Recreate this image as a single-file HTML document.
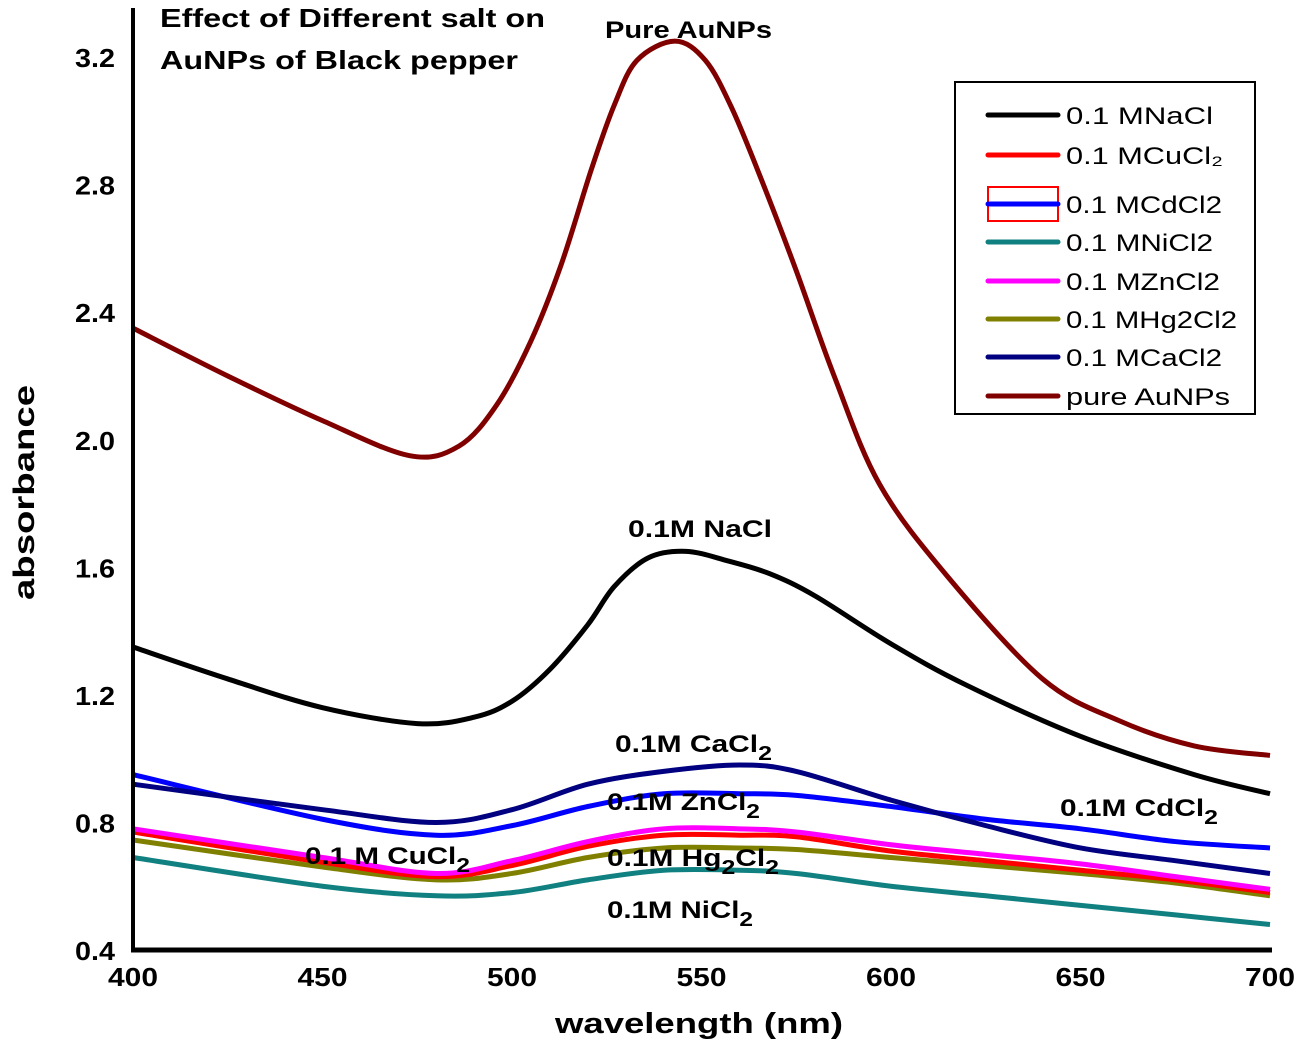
<!DOCTYPE html>
<html><head><meta charset="utf-8"><style>
body{margin:0;background:#fff}
svg{display:block;font-family:"Liberation Sans",Arial,sans-serif}
.t{font-weight:bold;font-size:26px;fill:#000}
.lab{font-weight:bold;font-size:24px;fill:#000}
.lg{font-size:24px;fill:#000}
</style></head><body>
<svg id="chart" width="1300" height="1046" viewBox="0 0 1300 1046">
<g id="plot"></g>
<g>
<line x1="133" y1="8" x2="133" y2="952" stroke="#000" stroke-width="4"/>
<line x1="131" y1="950" x2="1272" y2="950" stroke="#000" stroke-width="5"/>
</g>
<g id="ticks"></g>
<text class="t" x="555" y="1033" textLength="288" lengthAdjust="spacingAndGlyphs" style="font-size:29px">wavelength (nm)</text>
<text class="t" transform="translate(34,600) rotate(-90)" textLength="215" lengthAdjust="spacingAndGlyphs" style="font-size:30px">absorbance</text>
<text class="t" x="160" y="27" textLength="385" lengthAdjust="spacingAndGlyphs">Effect of Different salt on</text>
<text class="t" x="160" y="69" textLength="358" lengthAdjust="spacingAndGlyphs">AuNPs of Black pepper</text>
<g>
<text class="lab" x="605" y="38" textLength="167" lengthAdjust="spacingAndGlyphs">Pure AuNPs</text>
<text class="lab" x="628" y="537" textLength="144" lengthAdjust="spacingAndGlyphs">0.1M NaCl</text>
<text class="lab" x="615" y="752" textLength="157" lengthAdjust="spacingAndGlyphs">0.1M CaCl<tspan dy="8" font-size="20">2</tspan></text>
<text class="lab" x="607" y="810" textLength="153" lengthAdjust="spacingAndGlyphs">0.1M ZnCl<tspan dy="8" font-size="20">2</tspan></text>
<text class="lab" x="1060" y="816" textLength="158" lengthAdjust="spacingAndGlyphs">0.1M CdCl<tspan dy="8" font-size="20">2</tspan></text>
<text class="lab" x="305" y="864" textLength="165" lengthAdjust="spacingAndGlyphs">0.1 M CuCl<tspan dy="8" font-size="20">2</tspan></text>
<text class="lab" x="607" y="866" textLength="172" lengthAdjust="spacingAndGlyphs">0.1M Hg<tspan dy="8" font-size="20">2</tspan><tspan dy="-8">Cl</tspan><tspan dy="8" font-size="20">2</tspan></text>
<text class="lab" x="607" y="918" textLength="146" lengthAdjust="spacingAndGlyphs">0.1M NiCl<tspan dy="8" font-size="20">2</tspan></text>
</g>
<g>
<rect x="955" y="82" width="300" height="332" fill="#fff" stroke="#000" stroke-width="2"/>
<rect x="988" y="187" width="70" height="34" fill="none" stroke="#f00" stroke-width="2"/>
<g id="legend-items"></g>
</g>
</svg>
<script>
const wl=[400,425,450,473,486,496,505,513,521,527,533,543,551,558,566,575,585,597,615,640,660,680,700];
const pureAu=[2.35,2.20,2.06,1.95,1.98,2.11,2.31,2.55,2.85,3.05,3.19,3.25,3.19,3.04,2.81,2.53,2.20,1.86,1.57,1.25,1.12,1.04,1.01];
const wl2=[400,425,450,475,490,500,510,520,527,536,546,557,568,580,600,620,650,680,700];
const nacl=[1.35,1.25,1.16,1.11,1.13,1.18,1.28,1.42,1.54,1.63,1.65,1.62,1.58,1.51,1.36,1.23,1.07,0.95,0.89];
const wl3=[400,450,480,500,520,540,560,575,600,625,650,675,700];
const cacl2=[0.92,0.84,0.80,0.84,0.92,0.96,0.98,0.96,0.87,0.79,0.72,0.68,0.64];
const cdcl2=[0.95,0.81,0.76,0.79,0.85,0.89,0.89,0.885,0.85,0.81,0.78,0.74,0.72];
const zncl2=[0.78,0.69,0.64,0.68,0.74,0.78,0.78,0.77,0.73,0.70,0.67,0.63,0.59];
const cucl2=[0.77,0.675,0.63,0.665,0.725,0.76,0.76,0.755,0.71,0.68,0.65,0.62,0.58];
const hg2cl2=[0.745,0.66,0.62,0.64,0.69,0.72,0.72,0.715,0.69,0.665,0.64,0.61,0.57];
const nicl2=[0.69,0.60,0.57,0.58,0.62,0.65,0.65,0.64,0.60,0.57,0.54,0.51,0.48];
const xTicks=[400,450,500,550,600,650,700];
const yTicks=[0.4,0.8,1.2,1.6,2.0,2.4,2.8,3.2];
const legendLabels=["0.1 MNaCl","0.1 MCuCl₂","0.1 MCdCl2","0.1 MNiCl2","0.1 MZnCl2","0.1 MHg2Cl2","0.1 MCaCl2","pure AuNPs"];
const legendWidths=[147,157,156,147,154,171,156,164];

const X=v=>133+(v-400)*1137/300;
const Y=v=>950-(v-0.4)*318.9;
const NS='http://www.w3.org/2000/svg';
function path(xs,ys){
  const p=xs.map((x,i)=>[X(x),Y(ys[i])]);
  let d='M'+p[0][0]+','+p[0][1];
  for(let i=0;i<p.length-1;i++){
    const p0=p[i-1]||p[i],p1=p[i],p2=p[i+1],p3=p[i+2]||p2;
    const c1=[p1[0]+(p2[0]-p0[0])/6,p1[1]+(p2[1]-p0[1])/6];
    const c2=[p2[0]-(p3[0]-p1[0])/6,p2[1]-(p3[1]-p1[1])/6];
    d+=`C${c1[0]},${c1[1]} ${c2[0]},${c2[1]} ${p2[0]},${p2[1]}`;
  }
  return d;
}
const plot=document.getElementById('plot');
const series=[
 ['series-nicl2',wl3,nicl2,'#108080'],
 ['series-hg2cl2',wl3,hg2cl2,'#808000'],
 ['series-cucl2',wl3,cucl2,'#ff0000'],
 ['series-zncl2',wl3,zncl2,'#ff00ff'],
 ['series-cdcl2',wl3,cdcl2,'#0000ff'],
 ['series-cacl2',wl3,cacl2,'#000080'],
 ['series-nacl',wl2,nacl,'#000000'],
 ['series-pure-aunps',wl,pureAu,'#800000']];
series.forEach(s=>{
  const el=document.createElementNS(NS,'path');
  el.setAttribute('d',path(s[1],s[2]));
  el.setAttribute('fill','none');el.setAttribute('stroke',s[3]);el.setAttribute('stroke-width','5');
  
  
  plot.appendChild(el);
});
const tk=document.getElementById('ticks');
xTicks.forEach(v=>{
  const t=document.createElementNS(NS,'text');
  t.setAttribute('x',X(v)-25);t.setAttribute('y',986);t.setAttribute('class','t');
  t.setAttribute('textLength',50);t.setAttribute('lengthAdjust','spacingAndGlyphs');
  t.textContent=v;
  
  
  tk.appendChild(t);
});
yTicks.forEach(v=>{
  const t=document.createElementNS(NS,'text');
  t.setAttribute('x',75);t.setAttribute('y',Y(v)+10);t.setAttribute('class','t');
  t.setAttribute('textLength',40);t.setAttribute('lengthAdjust','spacingAndGlyphs');
  t.textContent=v.toFixed(1);
  
  
  tk.appendChild(t);
});
const lcol=['#000000','#ff0000','#0000ff','#108080','#ff00ff','#808000','#000080','#800000'];
const lys=[115,155,204,242,281,319,357,396];
const li=document.getElementById('legend-items');
legendLabels.forEach((l,i)=>{
  const ln=document.createElementNS(NS,'line');
  ln.setAttribute('x1',988);ln.setAttribute('x2',1058);ln.setAttribute('y1',lys[i]);ln.setAttribute('y2',lys[i]);
  ln.setAttribute('stroke',lcol[i]);ln.setAttribute('stroke-width','5');ln.setAttribute('stroke-linecap','round');
  
  
  li.appendChild(ln);
  const t=document.createElementNS(NS,'text');
  t.setAttribute('x',1066);t.setAttribute('y',lys[i]+9);t.setAttribute('class','lg');
  t.setAttribute('textLength',legendWidths[i]);t.setAttribute('lengthAdjust','spacingAndGlyphs');
  t.textContent=l;
  
  
  li.appendChild(t);
});
</script>
</body></html>
